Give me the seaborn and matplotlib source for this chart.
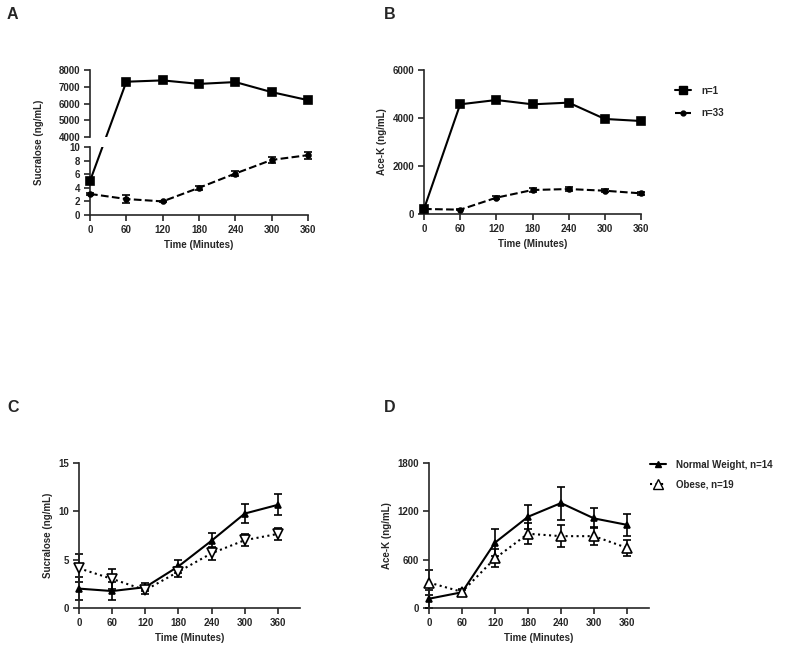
import matplotlib
matplotlib.use('Agg')
import matplotlib.pyplot as plt
from matplotlib.lines import Line2D
import seaborn as sns

sns.set_style('ticks')
plt.rcParams['font.family'] = ['Liberation Sans', 'DejaVu Sans']
plt.rcParams['font.weight'] = 'bold'
plt.rcParams['axes.labelweight'] = 'bold'

# data
time = [0, 60, 120, 180, 240, 300, 360]
time_ticks = [0, 60, 120, 180, 240, 300, 360]

# A: sucralose
suc_n1 = [5, 7300, 7380, 7170, 7280, 6680, 6200]
suc_n33 = [3.1, 2.35, 2.0, 4.0, 6.1, 8.1, 8.8]
suc_n33_err = [0.2, 0.6, 0.1, 0.3, 0.4, 0.5, 0.5]

# B: ace-K
ace_n1 = [210, 4570, 4750, 4570, 4640, 3960, 3875]
ace_n33 = [210, 180, 680, 1000, 1040, 970, 860]
ace_n33_err = [40, 30, 70, 90, 100, 70, 50]

# C: sucralose by weight group
suc_nw = [2.0, 1.75, 2.15, 4.3, 6.95, 9.75, 10.65]
suc_nw_err = [1.2, 0.9, 0.4, 0.7, 0.8, 1.0, 1.1]
suc_ob = [4.1, 3.0, 1.85, 3.75, 5.65, 7.0, 7.65]
suc_ob_err = [1.45, 1.0, 0.4, 0.5, 0.65, 0.6, 0.65]

# D: ace-K by weight group
ace_nw = [115, 195, 810, 1130, 1300, 1110, 1030]
ace_nw_err = [110, 30, 170, 150, 205, 125, 135]
ace_ob = [315, 200, 615, 920, 890, 890, 745]
ace_ob_err = [155, 30, 110, 130, 135, 115, 95]

FS = 7
W, H = 800, 651


def box(left, right, top, bottom):
    return [left / W, (H - bottom) / H, (right - left) / W, (bottom - top) / H]


def style_ax(ax):
    sns.despine(ax=ax)
    for s in ['left', 'bottom']:
        ax.spines[s].set_linewidth(1.2)
    ax.tick_params(direction='out', length=4, width=1.2, labelsize=FS, pad=3)
    ax.grid(False)


def series(ax, x, y, ls, marker, ms, mfc='black', err=None):
    sns.lineplot(x=x, y=y, ax=ax, color='black', linestyle=ls, linewidth=1.5,
                 marker=marker, markersize=ms, markerfacecolor=mfc,
                 markeredgecolor='black', markeredgewidth=1.2, clip_on=False,
                 zorder=3)
    if err is not None:
        eb = ax.errorbar(x, y, yerr=err, fmt='none', ecolor='black',
                         elinewidth=1.2, capsize=3, capthick=1.2, zorder=2)
        for art in eb.lines[1] + eb.lines[2]:
            art.set_clip_on(False)
    if ax.get_legend() is not None:
        ax.get_legend().remove()


fig = plt.figure(figsize=(8, 6.51), dpi=100)

# ---- Panel A (broken y axis) ----
ax_hi = fig.add_axes(box(90, 308, 70, 137))
ax_lo = fig.add_axes(box(90, 308, 147, 215))
for ax in (ax_hi, ax_lo):
    style_ax(ax)
    ax.set_xlim(0, 360)
ax_hi.set_ylim(4000, 8000)
ax_hi.set_yticks([4000, 5000, 6000, 7000, 8000])
ax_hi.spines['bottom'].set_visible(False)
ax_hi.tick_params(axis='x', bottom=False, labelbottom=False)
ax_lo.set_ylim(0, 10)
ax_lo.set_yticks([0, 2, 4, 6, 8, 10])
ax_lo.set_xticks(time_ticks)

series(ax_hi, time[1:], suc_n1[1:], '-', 's', 6)
series(ax_lo, time[:1], suc_n1[:1], '-', 's', 6)
series(ax_lo, time, suc_n33, '--', 'o', 3.5, err=suc_n33_err)

# line crossing the axis break, drawn in figure coords and clipped per axes
to_fig = fig.transFigure.inverted()
p0 = to_fig.transform(ax_lo.transData.transform((time[0], suc_n1[0])))
p1 = to_fig.transform(ax_hi.transData.transform((time[1], suc_n1[1])))
for ax in (ax_hi, ax_lo):
    ln = Line2D([p0[0], p1[0]], [p0[1], p1[1]], transform=fig.transFigure,
                color='black', linewidth=1.5)
    ax.add_line(ln)

ax_lo.set_xlabel('Time (Minutes)', fontsize=FS)
ax_lo.set_ylabel('Sucralose (ng/mL)', fontsize=FS)
ax_lo.yaxis.set_label_coords(-0.21, 1.07)

# ---- Panel B ----
ax_b = fig.add_axes(box(424, 641, 70, 214))
style_ax(ax_b)
series(ax_b, time, ace_n1, '-', 's', 6)
series(ax_b, time, ace_n33, '--', 'o', 3.5, err=ace_n33_err)
ax_b.set_xlim(0, 360)
ax_b.set_ylim(0, 6000)
ax_b.set_xticks(time_ticks)
ax_b.set_yticks([0, 2000, 4000, 6000])
ax_b.set_xlabel('Time (Minutes)', fontsize=FS)
ax_b.set_ylabel('Ace-K (ng/mL)', fontsize=FS)
hb = [Line2D([], [], color='black', ls='-', lw=1.5, marker='s', ms=5.5),
      Line2D([], [], color='black', ls='--', lw=1.5, marker='o', ms=3.5)]
ax_b.legend(hb, ['n=1', 'n=33'], loc='upper left', bbox_to_anchor=(1.158, 0.89),
            frameon=False, fontsize=FS, handlelength=1.6, handletextpad=1.1,
            labelspacing=1.3, borderaxespad=0, borderpad=0)

# ---- Panel C ----
ax_c = fig.add_axes(box(79, 300, 462.7, 608))
style_ax(ax_c)
series(ax_c, time, suc_nw, '-', '^', 4, err=suc_nw_err)
series(ax_c, time, suc_ob, ':', 'v', 6.5, mfc='white', err=suc_ob_err)
ax_c.set_xlim(0, 400)
ax_c.set_ylim(0, 15)
ax_c.set_xticks(time_ticks)
ax_c.set_yticks([0, 5, 10, 15])
ax_c.set_xlabel('Time (Minutes)', fontsize=FS)
ax_c.set_ylabel('Sucralose (ng/mL)', fontsize=FS)

# ---- Panel D ----
ax_d = fig.add_axes(box(429, 649, 462.7, 608))
style_ax(ax_d)
series(ax_d, time, ace_nw, '-', '^', 4, err=ace_nw_err)
series(ax_d, time, ace_ob, ':', '^', 6.5, mfc='white', err=ace_ob_err)
ax_d.set_xlim(0, 400)
ax_d.set_ylim(0, 1800)
ax_d.set_xticks(time_ticks)
ax_d.set_yticks([0, 600, 1200, 1800])
ax_d.set_xlabel('Time (Minutes)', fontsize=FS)
ax_d.set_ylabel('Ace-K (ng/mL)', fontsize=FS)
hd = [Line2D([], [], color='black', ls='-', lw=1.5, marker='^', ms=4),
      Line2D([], [], color='black', ls=':', lw=1.5, marker='^', ms=6.5,
             markerfacecolor='white')]
ax_d.legend(hd, ['Normal Weight, n=14', 'Obese, n=19'], loc='upper left',
            bbox_to_anchor=(1.005, 1.02), frameon=False, fontsize=FS,
            handlelength=1.6, handletextpad=1.1, labelspacing=1.0,
            borderaxespad=0, borderpad=0)

# panel letters
for letter, (px, py) in zip('ABCD', [(7, 7), (384, 7), (7, 400), (384, 400)]):
    fig.text(px / W, 1 - py / H, letter, fontsize=11.5, fontweight='bold', va='top')

fig.savefig('out.png', dpi=100)
